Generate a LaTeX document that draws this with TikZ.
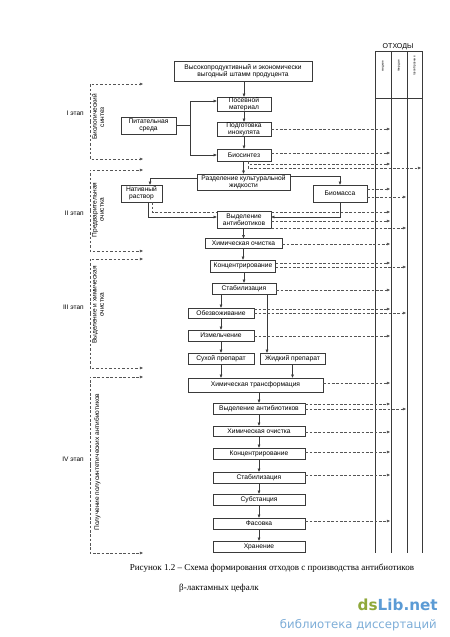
\documentclass[tikz,border=0pt]{standalone}
\usepackage{fontspec}
\setmainfont{Liberation Sans}
\newfontfamily\podpisfont{Liberation Serif}
\newfontfamily\znakfont{DejaVu Sans}
\usepackage{xcolor}
\usetikzlibrary{arrows.meta,calc}
\definecolor{ramka}{HTML}{3A3A3A}
\definecolor{shtrih}{HTML}{555555}
\definecolor{dsgreen}{HTML}{8FA83A}
\definecolor{dsblue}{HTML}{5B9BD5}
\definecolor{dsgray}{HTML}{7EAED8}
\tikzset{
  blok/.style={draw=ramka,fill=white,line width=0.45pt,align=center,
               font=\fontsize{5.7}{5.9}\selectfont,inner sep=0.3pt},
  razmer/.style 2 args={minimum width={#1*0.03cm},minimum height={#2*0.03cm}},
  strelka/.style={-{Triangle[length=2.6pt,width=2.2pt]},line width=0.45pt,color=ramka},
  othod/.style={-{Triangle[length=2.6pt,width=2.2pt]},dash pattern=on 2.2pt off 1.5pt,
                line width=0.4pt,color=shtrih},
  kolonka/.style={line width=0.45pt,color=ramka},
  kolvid/.style={rotate=90,font=\fontsize{2.6}{3}\selectfont,inner sep=0pt},
  etapname/.style={rotate=90,align=center,font=\fontsize{5.6}{6.2}\selectfont,inner sep=0pt},
  etapnum/.style={anchor=east,font=\fontsize{5.6}{6}\selectfont,inner sep=0pt}
}

\begin{document}
\begin{tikzpicture}[x=0.03cm,y=-0.03cm]
  \useasboundingbox[fill=white] (0,0) rectangle (450,637);

  % otkhody: table of wastes
  \node[font=\fontsize{6}{7}\selectfont,inner sep=0pt] (othody) at (398,46.5) {ОТХОДЫ};
  \draw[kolonka] (375,51) -- (422,51);
  \draw[kolonka] (375,98) -- (422,98);
  \foreach \x in {375,391,407,422} \draw[kolonka] (\x,51) -- (\x,553);
  \foreach \x/\t in {383/жидкие,399/твердые,414.5/газообразные}
    \node[kolvid] at (\x,66) {\t};
  \coordinate (zh) at (390,0);
  \coordinate (tv) at (406,0);
  \coordinate (gaz) at (421,0);

  % stages on the left
  \foreach \y/\t in {113/I,213/II,307/III,459/IV}
    \node[etapnum] at (84,\y) {\t~этап};
  \foreach \a/\b in {84/159,170/251,259/368,377/553} {
    \draw[othod] (90,{(\a+\b)/2}) |- (143,\a);
    \draw[othod] (90,{(\a+\b)/2}) |- (143,\b);
  }
  \node[etapname] (biosintez) at (98,117) {Биологический\\синтез};
  \node[etapname] (predoch) at (98,210) {Предварительная\\очистка};
  \node[etapname] (vydhim) at (98,305) {Выделение и химическая\\очистка};
  \node[etapname] (polusint) at (97.5,462) {Получение полусинтетических антибиотиков};

  % main boxes
  \node[blok,razmer={138}{20}] (shtamm) at (243,71) {Высокопродуктивный и экономически\\выгодный штамм продуцента};
  \node[blok,razmer={54}{14}] (posev) at (244,104) {Посевной\\материал};
  \node[blok,razmer={54}{14}] (inok) at (244,129) {Подготовка\\инокулята};
  \node[blok,razmer={54}{12}] (bios) at (244,155) {Биосинтез};
  \node[blok,razmer={55}{17}] (sreda) at (148.5,125.5) {Питательная\\среда};
  \node[blok,razmer={93}{16}] (razd) at (243.5,182) {Разделение культуральной\\жидкости};
  \node[blok,razmer={41}{17}] (nativ) at (141.5,193.5) {Нативный\\раствор};
  \node[blok,razmer={54}{17}] (biom) at (340,193.5) {Биомасса};
  \node[blok,razmer={54}{17}] (vyd1) at (244,219.5) {Выделение\\антибиотиков};
  \node[blok,razmer={77}{10}] (him1) at (243.5,243.5) {Химическая очистка};
  \node[blok,razmer={65}{12}] (konc1) at (243,266) {Концентрирование};
  \node[blok,razmer={64}{11}] (stab1) at (244,288.5) {Стабилизация};
  \node[blok,razmer={66}{10}] (obez) at (221,313) {Обезвоживание};
  \node[blok,razmer={66}{11}] (izm) at (221,335.5) {Измельчение};
  \node[blok,razmer={66}{11}] (suh) at (221,358.5) {Сухой препарат};
  \node[blok,razmer={65}{11}] (zhid) at (292.5,358.5) {Жидкий препарат};
  \node[blok,razmer={135}{14}] (trans) at (255.5,385) {Химическая трансформация};
  \node[blok,razmer={92}{11}] (vyd2) at (259,408.5) {Выделение антибиотиков};
  \node[blok,razmer={92}{10}] (him2) at (259,431) {Химическая очистка};
  \node[blok,razmer={92}{11}] (konc2) at (259,453.5) {Концентрирование};
  \node[blok,razmer={92}{11}] (stab2) at (259,477.5) {Стабилизация};
  \node[blok,razmer={92}{11}] (subst) at (259,499.5) {Субстанция};
  \node[blok,razmer={92}{11}] (fas) at (259,523.5) {Фасовка};
  \node[blok,razmer={92}{11}] (hran) at (259,546.5) {Хранение};

  % solid flow
  \foreach \a/\b in {shtamm/posev,posev/inok,inok/bios,bios/razd,vyd1/him1,him1/konc1,konc1/stab1,
                     obez/izm,izm/suh,vyd2/him2,him2/konc2,konc2/stab2,stab2/subst,subst/fas,fas/hran}
    \draw[strelka] (\a.south -| \b.north) -- (\b.north);
  \coordinate (uzel) at (190,0);
  \draw[strelka] (sreda.east) -- (sreda.east -| uzel) |- (posev.west |- 0,101);
  \draw[strelka] (sreda.east -| uzel) |- (bios.west);
  \draw[strelka] (razd.west |- 0,178) -| (nativ.north -| 150,0);
  \draw[strelka] (razd.east |- 0,176) -| (biom.north);
  \draw[strelka] (nativ.south -| 148,0) |- (vyd1.west |- 0,217);
  \draw[shtrih,dash pattern=on 2.2pt off 1.5pt,line width=0.4pt] (nativ.south -| 152,0) |- (vyd1.west |- 0,212);
  \draw[strelka] (biom.south) |- (vyd1.east |- 0,217);
  \draw[strelka] (stab1.south -| obez.north) -- (obez.north);
  \draw[strelka] (stab1.south -| 267,0) -- (zhid.north -| 267,0);
  \draw[strelka] (suh.south) -- (trans.north -| suh.south);
  \draw[strelka] (zhid.south) -- (trans.north -| zhid.south);
  \draw[strelka] (trans.south -| vyd2.north) -- (vyd2.north);

  % wastes, dashed
  \foreach \n/\y/\k in {inok/129/zh,bios/153/zh,biom/189/zh,biom/197/tv,vyd1/212/zh,vyd1/221/zh,
                        vyd1/228/tv,him1/244/zh,konc1/263/zh,konc1/267/tv,stab1/290/zh,obez/309/zh,
                        obez/313/tv,izm/336/zh,trans/383/zh,vyd2/404/zh,vyd2/409/tv,him2/432/zh,
                        konc2/452/zh,stab2/475/zh,fas/521/zh}
    \draw[othod] (\n.east |- 0,\y) -- (\k |- 0,\y);
  \draw[othod] (bios.south -| 248,0) |- (zh |- 0,164);
  \draw[othod] (bios.south -| 248,0) |- (gaz |- 0,168);

  % caption
  \node[font=\podpisfont\fontsize{7.7}{9}\selectfont,inner sep=0pt] (ris) at (272,568)
    {Рисунок 1.2 – Схема формирования отходов с производства антибиотиков};
  \node[font=\podpisfont\fontsize{7.7}{9}\selectfont,inner sep=0pt] (ris2) at (219,588)
    {β-лактамных цефалк};
  \node[font=\znakfont\bfseries\fontsize{13}{14}\selectfont,anchor=east,inner sep=0pt] (dslib) at (438,605)
    {\textcolor{dsgreen}{ds}\textcolor{dsblue}{Lib.net}};
  \node[font=\znakfont\fontsize{10}{11}\selectfont,text=dsgray,anchor=east,inner sep=0pt] (biblio) at (437,625)
    {библиотека диссертаций};
\end{tikzpicture}
\end{document}
